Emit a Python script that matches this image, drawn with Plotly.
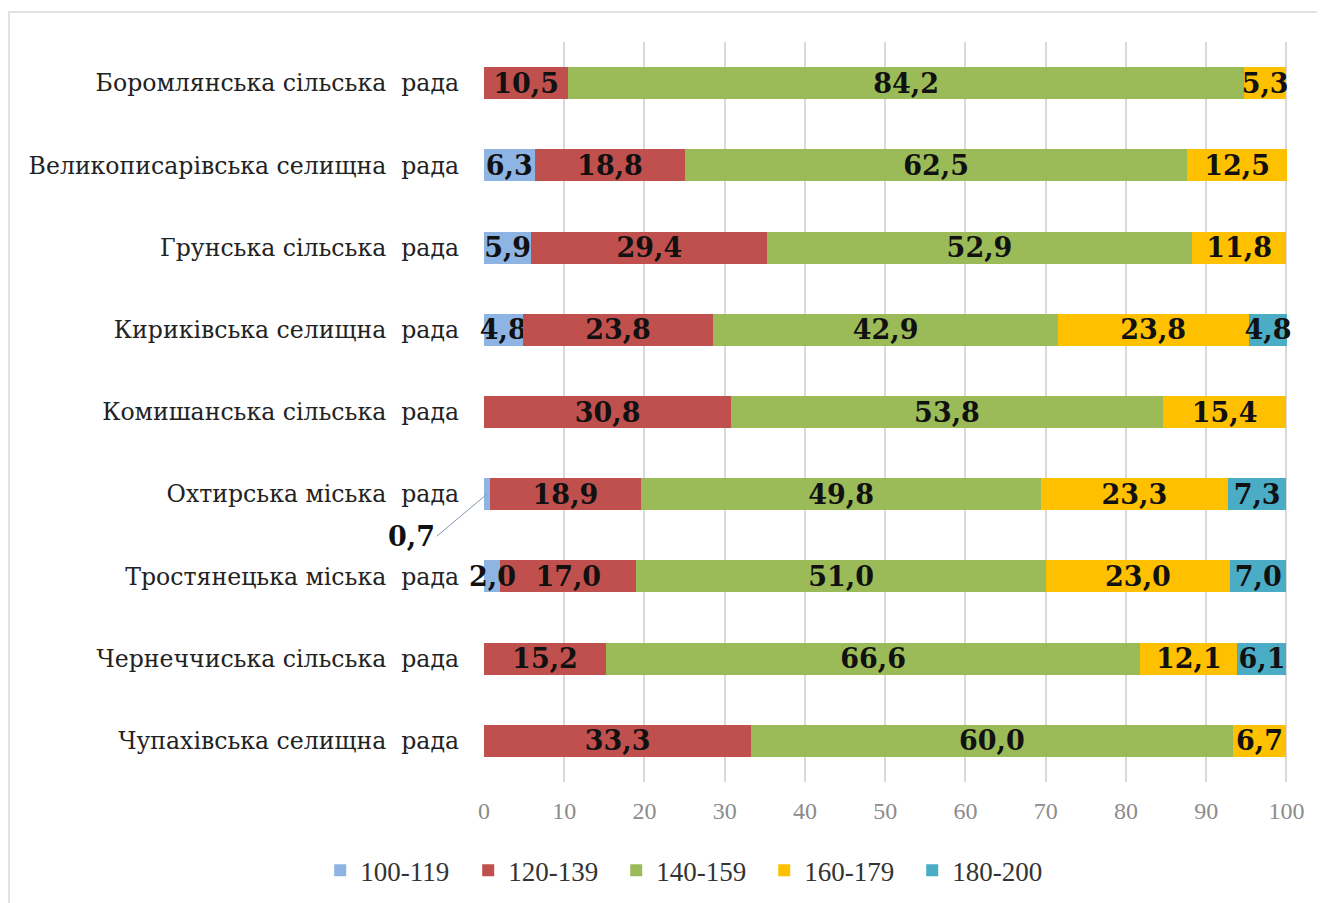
import plotly.graph_objects as go

categories = [
    "Боромлянська сільська  рада",
    "Великописарівська селищна  рада",
    "Грунська сільська  рада",
    "Кириківська селищна  рада",
    "Комишанська сільська  рада",
    "Охтирська міська  рада",
    "Тростянецька міська  рада",
    "Чернеччиська сільська  рада",
    "Чупахівська селищна  рада",
]
series_names = ["100-119", "120-139", "140-159", "160-179", "180-200"]
s100_119 = [None, 6.3, 5.9, 4.8, None, 0.7, 2.0, None, None]
s120_139 = [10.5, 18.8, 29.4, 23.8, 30.8, 18.9, 17.0, 15.2, 33.3]
s140_159 = [84.2, 62.5, 52.9, 42.9, 53.8, 49.8, 51.0, 66.6, 60.0]
s160_179 = [5.3, 12.5, 11.8, 23.8, 15.4, 23.3, 23.0, 12.1, 6.7]
s180_200 = [None, None, None, 4.8, None, 7.3, 7.0, 6.1, None]
series_values = [s100_119, s120_139, s140_159, s160_179, s180_200]
colors = ["#8EB4E3", "#C0504D", "#9BBB59", "#FFC000", "#4BACC6"]
x_ticks = [0, 10, 20, 30, 40, 50, 60, 70, 80, 90, 100]

# labels drawn as annotations (too small for their segment)
leader_label = ("Охтирська міська  рада", 0.7)     # outside with leader line
overlay_label = ("Тростянецька міська  рада", 2.0)  # overflowing segment

LABEL_FONT = dict(family="DejaVu Serif", size=27, color="#111111")


def fmt(v):
    return f"{v:.1f}".replace(".", ",")


fig = go.Figure()
for name, vals, col in zip(series_names, series_values, colors):
    texts = []
    for c, v in zip(categories, vals):
        if v is None or (c, v) in (leader_label, overlay_label):
            texts.append("")
        else:
            texts.append(fmt(v))
    fig.add_trace(go.Bar(
        y=categories, x=vals, name=name, orientation="h",
        marker=dict(color=col, line=dict(width=0)),
        text=texts, textposition="inside", insidetextanchor="middle",
        constraintext="none", textangle=0, cliponaxis=False,
        textfont=dict(**LABEL_FONT, weight="bold"),
        hoverinfo="skip",
    ))

fig.add_annotation(
    x=leader_label[1] / 2, y=leader_label[0], xref="x", yref="y",
    text="<b>" + fmt(leader_label[1]) + "</b>",
    showarrow=True, arrowhead=0, arrowwidth=1, arrowcolor="#8497B0",
    ax=-50, ay=42, standoff=0, font=LABEL_FONT, xanchor="right",
)
fig.add_annotation(
    x=overlay_label[1] / 2, y=overlay_label[0], xref="x", yref="y",
    text="<b>" + fmt(overlay_label[1]) + "</b>",
    showarrow=False, font=LABEL_FONT, xanchor="center", yanchor="middle",
)

# page has an 8px body margin: figure is shifted 8px right/down
fig.update_layout(
    width=1317, height=895,
    barmode="stack", bargap=0.61,
    separators=", ",
    plot_bgcolor="white", paper_bgcolor="white",
    margin=dict(l=476, r=37, t=34, b=121, autoexpand=False),
    showlegend=True,
    legend=dict(
        orientation="h", xref="container", yref="container",
        x=0.518, y=0.036, xanchor="center", yanchor="middle",
        font=dict(family="Liberation Serif", size=27, color="#333333"),
        traceorder="normal", entrywidth=103, entrywidthmode="pixels",
    ),
    xaxis=dict(
        range=[0, 100.2], tickvals=x_ticks, showgrid=True,
        gridcolor="#D9D9D9", gridwidth=1.5, zeroline=False,
        tickfont=dict(family="Liberation Serif", size=24, color="#8C8C8C"),
        ticks="", ticklabelstandoff=12,
    ),
    yaxis=dict(
        categoryorder="array", categoryarray=categories[::-1],
        tickfont=dict(family="DejaVu Serif", size=23.6, color="#222222"),
        ticks="", ticklabelstandoff=24, showgrid=False,
    ),
    shapes=[dict(
        type="rect", xref="paper", yref="paper",
        x0=(1 - 476) / 804, x1=(1340 - 476) / 804,
        y0=-(920 - 774) / 740, y1=1 + (34 - 4) / 740,
        line=dict(color="#D9D9D9", width=1.5), fillcolor="rgba(0,0,0,0)",
        layer="below",
    )],
)

fig.write_html("out.html")
